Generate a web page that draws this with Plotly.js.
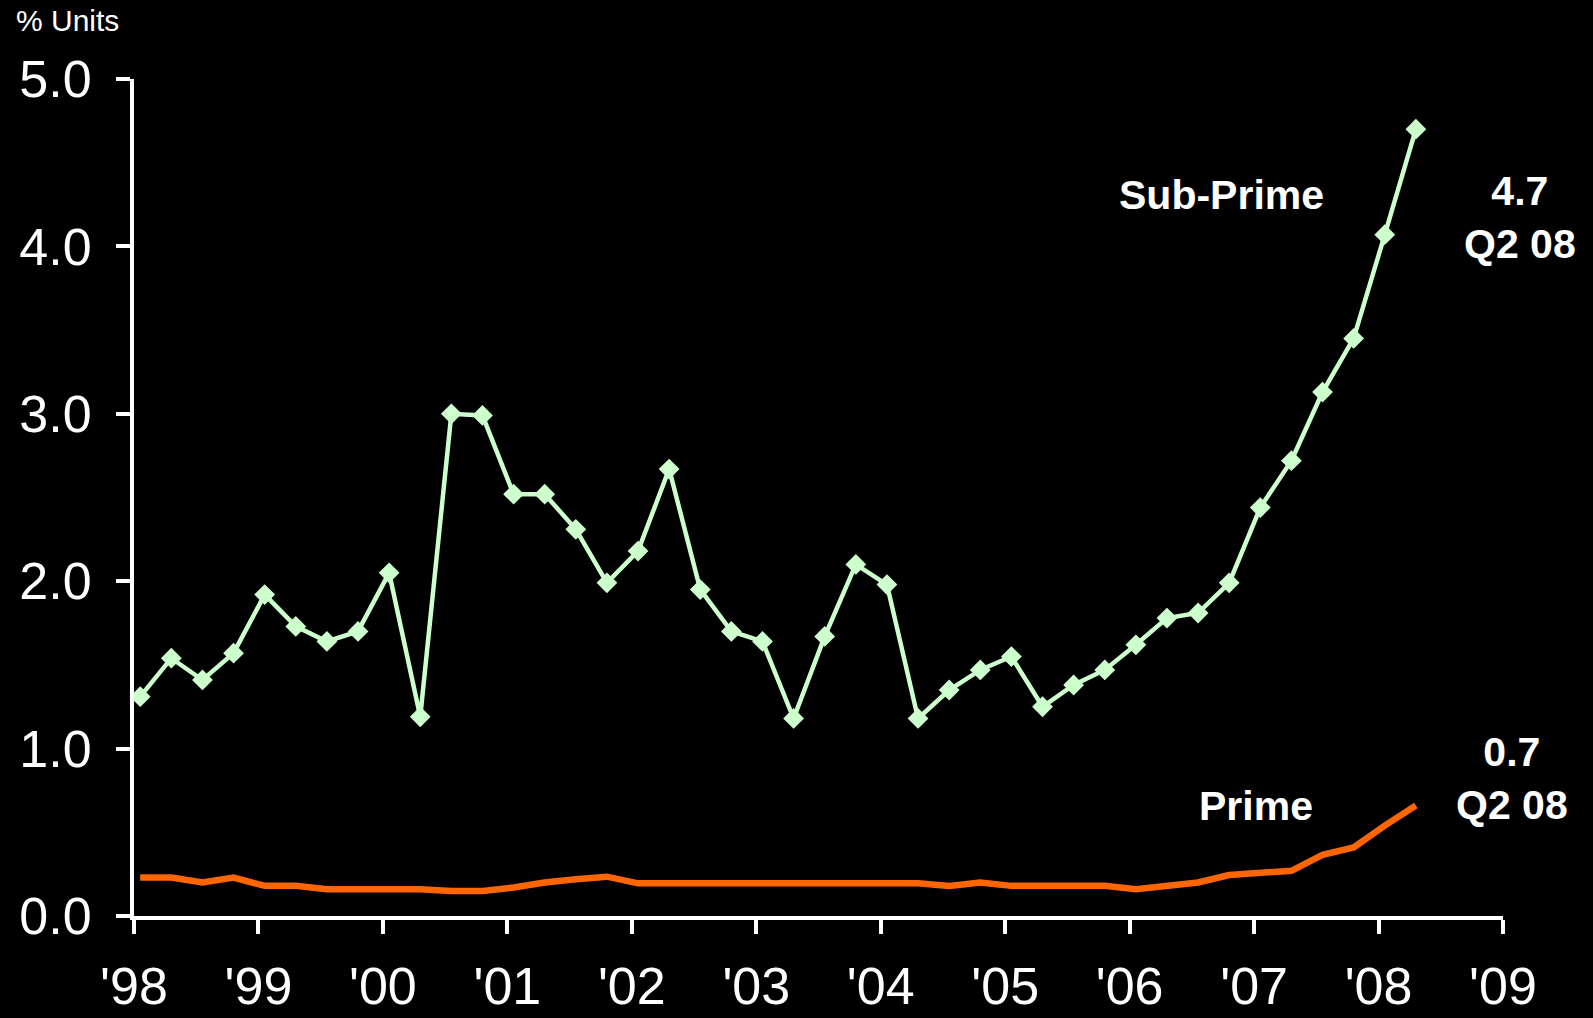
<!DOCTYPE html>
<html>
<head>
<meta charset="utf-8">
<script src="https://cdn.plot.ly/plotly-3.0.1.min.js"></script>
<style>
  html, body { margin: 0; padding: 0; background: #000; }
  #chart { width: 1593px; height: 1018px; }
</style>
</head>
<body>
<div id="chart"></div>
<script>
// Quarterly periods, Q1 1998 .. Q2 2008
const quarters = [
  '1998Q1','1998Q2','1998Q3','1998Q4',
  '1999Q1','1999Q2','1999Q3','1999Q4',
  '2000Q1','2000Q2','2000Q3','2000Q4',
  '2001Q1','2001Q2','2001Q3','2001Q4',
  '2002Q1','2002Q2','2002Q3','2002Q4',
  '2003Q1','2003Q2','2003Q3','2003Q4',
  '2004Q1','2004Q2','2004Q3','2004Q4',
  '2005Q1','2005Q2','2005Q3','2005Q4',
  '2006Q1','2006Q2','2006Q3','2006Q4',
  '2007Q1','2007Q2','2007Q3','2007Q4',
  '2008Q1','2008Q2'
];

// % Units, sub-prime
const subPrime = [
  1.31, 1.54, 1.41, 1.57,
  1.92, 1.73, 1.64, 1.70,
  2.05, 1.19, 3.00, 2.99,
  2.52, 2.52, 2.31, 1.99,
  2.18, 2.67, 1.95, 1.70,
  1.64, 1.18, 1.67, 2.10,
  1.98, 1.18, 1.35, 1.47,
  1.55, 1.25, 1.38, 1.47,
  1.62, 1.78, 1.81, 1.99,
  2.44, 2.72, 3.13, 3.45,
  4.07, 4.70
];

// % Units, prime
const prime = [
  0.23, 0.23, 0.20, 0.23,
  0.18, 0.18, 0.16, 0.16,
  0.16, 0.16, 0.15, 0.15,
  0.17, 0.20, 0.22, 0.235,
  0.195, 0.195, 0.195, 0.195,
  0.195, 0.195, 0.195, 0.195,
  0.195, 0.195, 0.18, 0.20,
  0.18, 0.18, 0.18, 0.18,
  0.16, 0.18, 0.20, 0.245,
  0.26, 0.27, 0.365, 0.41,
  0.54, 0.66
];

const yearTicks = [1998, 1999, 2000, 2001, 2002, 2003, 2004, 2005, 2006, 2007, 2008, 2009];
const yearLabels = ["'98", "'99", "'00", "'01", "'02", "'03", "'04", "'05", "'06", "'07", "'08", "'09"];
const yTicks = [0, 1, 2, 3, 4, 5];
const yLabels = ['0.0', '1.0', '2.0', '3.0', '4.0', '5.0'];

// quarter label -> position on a year axis
const xq = quarters.map(function (q) {
  const yr = parseInt(q.slice(0, 4), 10);
  const qn = parseInt(q.slice(5), 10);
  return yr + (qn - 1) / 4 + 0.05;
});

const FONT = '"Liberation Sans", Arial, sans-serif';

const traces = [
  {
    x: xq, y: subPrime, type: 'scatter', mode: 'lines+markers',
    name: 'Sub-Prime',
    line: { color: '#ccffcc', width: 4.5 },
    marker: { symbol: 'diamond', size: 16, color: '#ccffcc' },
    cliponaxis: false,
    hoverinfo: 'x+y'
  },
  {
    x: xq, y: prime, type: 'scatter', mode: 'lines',
    name: 'Prime',
    line: { color: '#ff6600', width: 6.5 },
    cliponaxis: false,
    hoverinfo: 'x+y'
  }
];

const layout = {
  width: 1593, height: 1018,
  paper_bgcolor: '#000000', plot_bgcolor: '#000000',
  margin: { l: 134, r: 90, t: 79, b: 102, pad: 0 },
  showlegend: false,
  font: { family: FONT, color: '#ffffff' },
  xaxis: {
    range: [1998, 2009],
    tickmode: 'array', tickvals: yearTicks, ticktext: yearLabels,
    showgrid: false, zeroline: false,
    showline: true, linecolor: '#ffffff', linewidth: 4,
    ticks: 'outside', ticklen: 14, tickwidth: 4, tickcolor: '#ffffff',
    tickfont: { family: FONT, size: 52, color: '#ffffff' },
    ticklabelstandoff: 8,
    fixedrange: true
  },
  yaxis: {
    range: [0, 5],
    tickmode: 'array', tickvals: yTicks, ticktext: yLabels,
    showgrid: false, zeroline: false,
    showline: true, linecolor: '#ffffff', linewidth: 4,
    ticks: 'outside', ticklen: 14, tickwidth: 4, tickcolor: '#ffffff',
    tickfont: { family: FONT, size: 52, color: '#ffffff' },
    ticklabelstandoff: 14,
    fixedrange: true
  },
  annotations: [
    {
      xref: 'paper', yref: 'paper', x: -0.088, y: 1.07,
      xanchor: 'left', yanchor: 'middle', showarrow: false,
      text: '% Units', font: { family: FONT, size: 30, color: '#ffffff' }
    },
    {
      xref: 'paper', yref: 'paper', x: 0.7947, y: 0.861,
      xanchor: 'center', yanchor: 'middle', showarrow: false,
      text: '<b>Sub-Prime</b>', font: { family: FONT, size: 41, color: '#ffffff' }
    },
    {
      xref: 'paper', yref: 'paper', x: 1.0124, y: 0.8345,
      xanchor: 'center', yanchor: 'middle', showarrow: false, align: 'center',
      text: '<b>4.7<br>Q2 08</b>', font: { family: FONT, size: 41, color: '#ffffff' }
    },
    {
      xref: 'paper', yref: 'paper', x: 0.8196, y: 0.1314,
      xanchor: 'center', yanchor: 'middle', showarrow: false,
      text: '<b>Prime</b>', font: { family: FONT, size: 41, color: '#ffffff' }
    },
    {
      xref: 'paper', yref: 'paper', x: 1.0066, y: 0.1637,
      xanchor: 'center', yanchor: 'middle', showarrow: false, align: 'center',
      text: '<b>0.7<br>Q2 08</b>', font: { family: FONT, size: 41, color: '#ffffff' }
    }
  ]
};

Plotly.newPlot('chart', traces, layout, { staticPlot: true, displayModeBar: false });
</script>
</body>
</html>
